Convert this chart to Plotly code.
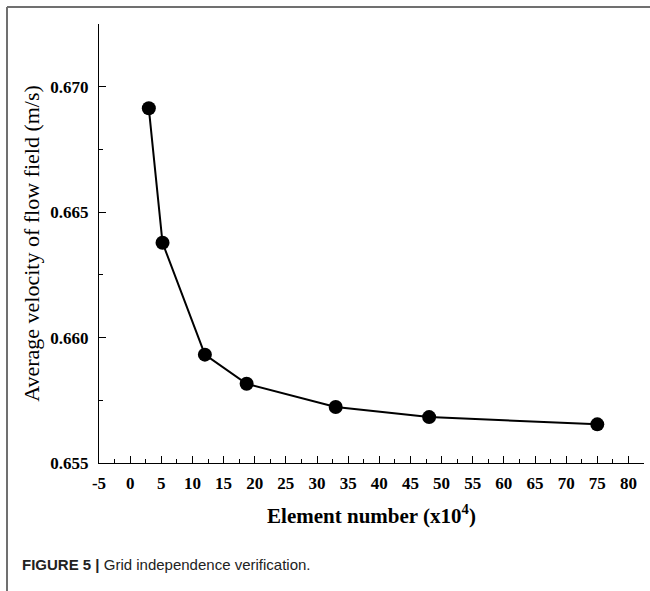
import plotly.graph_objects as go

# Data
element_number = [3, 5.2, 12, 18.7, 33, 48, 75]          # x10^4
avg_velocity = [0.66914, 0.66378, 0.65932, 0.65816, 0.65723, 0.65683, 0.65654]  # m/s

x_tick_vals = list(range(-5, 81, 5))
y_tick_vals = [0.655, 0.660, 0.665, 0.670]
y_tick_text = ["0.655", "0.660", "0.665", "0.670"]

W, H = 650, 591
ML, MR, MT, MB = 99, 6, 24, 128
pw = W - ML - MR
ph = H - MT - MB

def px_x(px):
    return (px - ML) / pw

def px_y(py):
    return (H - MB - py) / ph

fig = go.Figure()
fig.add_trace(go.Scatter(
    x=element_number, y=avg_velocity, mode="lines+markers",
    line=dict(color="black", width=2),
    marker=dict(color="black", size=14, symbol="circle"),
    showlegend=False,
))

serif = "Liberation Serif, Times New Roman, serif"
fig.update_layout(
    width=W, height=H,
    margin=dict(l=ML, r=MR, t=MT, b=MB),
    paper_bgcolor="white", plot_bgcolor="white",
    xaxis=dict(
        range=[-5, 82.5], tickmode="array", tickvals=x_tick_vals,
        ticktext=[str(v) for v in x_tick_vals],
        ticks="inside", ticklen=7, tickwidth=1, tickcolor="black",
        minor=dict(dtick=2.5, tick0=0, ticks="inside", ticklen=4, tickcolor="black", showgrid=False),
        showline=True, linecolor="black", linewidth=1.2, showgrid=False, zeroline=False,
        tickfont=dict(family=serif, size=17, color="black", weight="bold"),
        ticklabelstandoff=4,
        title=dict(text="<b>Element number (x10<sup>4</sup>)</b>",
                   font=dict(family=serif, size=21, color="black"), standoff=16),
    ),
    yaxis=dict(
        range=[0.655, 0.6725], tickmode="array", tickvals=y_tick_vals, ticktext=y_tick_text,
        ticks="inside", ticklen=7, tickwidth=1, tickcolor="black",
        minor=dict(dtick=0.0025, tick0=0.655, ticks="inside", ticklen=4, tickcolor="black", showgrid=False),
        showline=True, linecolor="black", linewidth=1.2, showgrid=False, zeroline=False,
        tickfont=dict(family=serif, size=17, color="black", weight="bold"),
        ticklabelstandoff=6,
        title=dict(text="Average velocity of flow field (m/s)",
                   font=dict(family=serif, size=22, color="black"), standoff=4),
    ),
    shapes=[
        dict(type="line", xref="paper", yref="paper", x0=px_x(7), x1=px_x(W + 5),
             y0=px_y(7), y1=px_y(7), line=dict(color="#707070", width=2)),
        dict(type="line", xref="paper", yref="paper", x0=px_x(7), x1=px_x(7),
             y0=px_y(7), y1=px_y(H + 5), line=dict(color="#707070", width=2)),
    ],
    annotations=[
        dict(text="<b>FIGURE 5 |</b> Grid independence verification.",
             xref="paper", yref="paper", x=px_x(20), y=px_y(564),
             xanchor="left", yanchor="middle", showarrow=False,
             font=dict(family="Liberation Sans, Arial, sans-serif", size=15, color="#222")),
    ],
)

fig.write_html("out.html")
